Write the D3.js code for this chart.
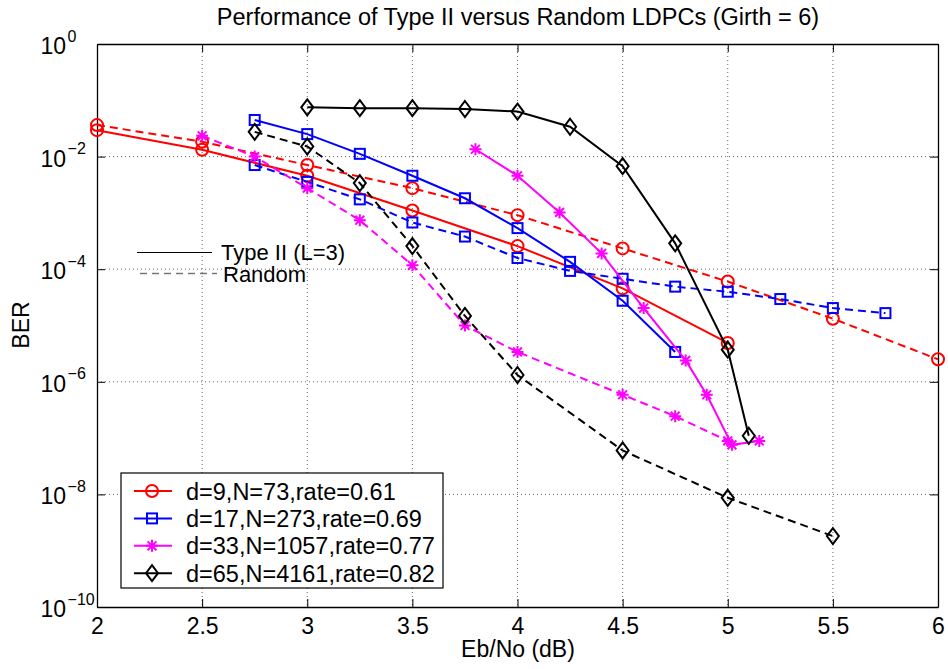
<!DOCTYPE html>
<html>
<head>
<meta charset="utf-8">
<script src="https://cdn.jsdelivr.net/npm/d3@7"></script>
<style>
  html, body { margin: 0; padding: 0; background: #fff; }
  svg { display: block; font-family: "Liberation Sans", Arial, Helvetica, sans-serif; }
</style>
</head>
<body>
<svg id="chart" width="948" height="669"></svg>
<script>
// ---------------- data ----------------
const titleText = "Performance of Type II versus Random LDPCs (Girth = 6)";
const xLabel = "Eb/No (dB)";
const yLabel = "BER";
const xTicks = [2, 2.5, 3, 3.5, 4, 4.5, 5, 5.5, 6];
const xTickLabels = ["2", "2.5", "3", "3.5", "4", "4.5", "5", "5.5", "6"];
const yTicks = [1, 1e-2, 1e-4, 1e-6, 1e-8, 1e-10];
const yTickExponents = ["0", "\u22122", "\u22124", "\u22126", "\u22128", "\u221210"];

const legendLabels = ["d=9,N=73,rate=0.61", "d=17,N=273,rate=0.69", "d=33,N=1057,rate=0.77", "d=65,N=4161,rate=0.82"];
const seriesColors = ["#ff0000", "#0000ff", "#ff00ff", "#000000"];
const seriesMarkers = ["circle", "square", "star", "diamond"];
const styleLabels = ["Type II (L=3)", "Random"];

// d=9
const d9TypeX = [2, 2.5, 3, 3.5, 4, 4.5, 5];
const d9TypeBER = [2.95e-2, 1.32e-2, 4.57e-3, 1.10e-3, 2.57e-4, 4.57e-5, 4.90e-6];
const d9RandX = [2, 2.5, 3, 3.5, 4, 4.5, 5, 5.5, 6];
const d9RandBER = [3.63e-2, 1.84e-2, 7.08e-3, 2.75e-3, 9.12e-4, 2.34e-4, 6.03e-5, 1.32e-5, 2.51e-6];
// d=17
const d17TypeX = [2.75, 3, 3.25, 3.5, 3.75, 4, 4.25, 4.5, 4.75];
const d17TypeBER = [4.47e-2, 2.51e-2, 1.12e-2, 4.57e-3, 1.82e-3, 5.37e-4, 1.35e-4, 2.75e-5, 3.39e-6];
const d17RandX = [2.75, 3, 3.25, 3.5, 3.75, 4, 4.25, 4.5, 4.75, 5, 5.25, 5.5, 5.75];
const d17RandBER = [7.08e-3, 3.55e-3, 1.74e-3, 6.76e-4, 3.80e-4, 1.58e-4, 9.33e-5, 6.76e-5, 4.90e-5, 3.98e-5, 2.95e-5, 2.04e-5, 1.66e-5];
// d=33
const d33TypeX = [3.8, 4, 4.2, 4.4, 4.6, 4.8, 4.9, 5.02, 5.15];
const d33TypeBER = [1.35e-2, 4.57e-3, 1.02e-3, 1.91e-4, 2.04e-5, 2.40e-6, 5.89e-7, 7.59e-8, 8.91e-8];
const d33RandX = [2.5, 2.75, 3, 3.25, 3.5, 3.75, 4, 4.5, 4.75, 5];
const d33RandBER = [2.34e-2, 1.0e-2, 2.75e-3, 7.41e-4, 1.17e-4, 1.0e-5, 3.39e-6, 5.89e-7, 2.45e-7, 8.91e-8];
// d=65
const d65TypeX = [3, 3.25, 3.5, 3.75, 4, 4.25, 4.5, 4.75, 5, 5.1];
const d65TypeBER = [7.50e-2, 7.24e-2, 7.24e-2, 7.00e-2, 6.31e-2, 3.39e-2, 6.76e-3, 2.88e-4, 3.72e-6, 1.10e-7];
const d65RandX = [2.75, 3, 3.25, 3.5, 3.75, 4, 4.5, 5, 5.5];
const d65RandBER = [2.75e-2, 1.51e-2, 3.39e-3, 2.57e-4, 1.48e-5, 1.32e-6, 6.03e-8, 8.71e-9, 1.82e-9];

// ---------------- build ----------------
const series = [
  {x: d9TypeX, y: d9TypeBER, k: 0, dashed: false},
  {x: d9RandX, y: d9RandBER, k: 0, dashed: true},
  {x: d17TypeX, y: d17TypeBER, k: 1, dashed: false},
  {x: d17RandX, y: d17RandBER, k: 1, dashed: true},
  {x: d33TypeX, y: d33TypeBER, k: 2, dashed: false},
  {x: d33RandX, y: d33RandBER, k: 2, dashed: true},
  {x: d65TypeX, y: d65TypeBER, k: 3, dashed: false},
  {x: d65RandX, y: d65RandBER, k: 3, dashed: true}
];

const svg = d3.select("#chart");
const L = 97, R = 938, T = 44, B = 607;
const x = d3.scaleLinear().domain([2, 6]).range([L, R]);
const y = d3.scaleLog().domain([1e-10, 1]).range([B, T]);

svg.append("rect").attr("width", 948).attr("height", 669).attr("fill", "#fff");

// grid
const grid = svg.append("g").attr("stroke", "#555").attr("stroke-width", 0.9).attr("stroke-dasharray", "1,3");
grid.selectAll("line.gx").data(xTicks.filter(v => v > 2 && v < 6)).join("line")
  .attr("x1", d => x(d)).attr("x2", d => x(d)).attr("y1", T).attr("y2", B);
grid.selectAll("line.gy").data(yTicks.filter(v => v < 1 && v > 1e-10)).join("line")
  .attr("class", "gy")
  .attr("y1", d => y(d)).attr("y2", d => y(d)).attr("x1", L).attr("x2", R);

// axes
const fs = 23;
const axB = svg.append("g").attr("transform", `translate(0,${B})`)
  .call(d3.axisBottom(x).tickValues(xTicks).tickSize(-8).tickSizeOuter(0).tickFormat((d, i) => xTickLabels[i]));
axB.selectAll("text").attr("y", 26.5).attr("dy", 0).attr("font-size", fs).attr("fill", "#000").attr("font-family", "Liberation Sans, Arial, sans-serif");
const axT = svg.append("g").attr("transform", `translate(0,${T})`)
  .call(d3.axisTop(x).tickValues(xTicks).tickSize(-8).tickSizeOuter(0).tickFormat(""));
const axL = svg.append("g").attr("transform", `translate(${L},0)`)
  .call(d3.axisLeft(y).tickValues(yTicks).tickSize(-8).tickSizeOuter(0).tickFormat(""));
const axR = svg.append("g").attr("transform", `translate(${R},0)`)
  .call(d3.axisRight(y).tickValues(yTicks).tickSize(-8).tickSizeOuter(0).tickFormat(""));
[axB, axT, axL, axR].forEach(a => {
  a.select(".domain").attr("stroke", "#000").attr("stroke-width", 1.3);
  a.selectAll(".tick line").attr("stroke", "#000").attr("stroke-width", 1);
});

// y tick labels 10^n
axL.selectAll(".tick").each(function(d, i) {
  const t = d3.select(this).append("text")
    .attr("x", 40.5 - L).attr("y", 9.5)
    .attr("text-anchor", "start").attr("fill", "#000")
    .attr("font-size", fs);
  t.append("tspan").text("10");
  t.append("tspan").attr("dy", -12.5).attr("dx", 1.5).attr("font-size", 16).text(yTickExponents[i]);
});

// title & axis labels
svg.append("text").attr("x", 518).attr("y", 25).attr("text-anchor", "middle")
  .attr("font-size", 23.5).attr("fill", "#000").text(titleText);
svg.append("text").attr("x", 518).attr("y", 657).attr("text-anchor", "middle")
  .attr("font-size", fs).attr("fill", "#000").text(xLabel);
svg.append("text").attr("transform", "translate(28.5,325) rotate(-90)").attr("text-anchor", "middle")
  .attr("font-size", fs).attr("fill", "#000").text(yLabel);

// markers
function drawMarker(g, type, cx, cy, color) {
  if (type === "circle") {
    g.append("circle").attr("cx", cx).attr("cy", cy).attr("r", 6)
      .attr("fill", "none").attr("stroke", color).attr("stroke-width", 2);
  } else if (type === "square") {
    g.append("rect").attr("x", cx - 5).attr("y", cy - 5).attr("width", 10).attr("height", 10)
      .attr("fill", "none").attr("stroke", color).attr("stroke-width", 2);
  } else if (type === "diamond") {
    g.append("path").attr("d", `M${cx},${cy - 8}L${cx + 6},${cy}L${cx},${cy + 8}L${cx - 6},${cy}Z`)
      .attr("fill", "none").attr("stroke", color).attr("stroke-width", 2);
  } else if (type === "star") {
    const r = 6, q = 4.4;
    g.append("path").attr("d",
      `M${cx - r},${cy}L${cx + r},${cy}M${cx},${cy - r}L${cx},${cy + r}` +
      `M${cx - q},${cy - q}L${cx + q},${cy + q}M${cx - q},${cy + q}L${cx + q},${cy - q}`)
      .attr("fill", "none").attr("stroke", color).attr("stroke-width", 2);
  }
}

const line = d3.line().x(d => x(d[0])).y(d => y(d[1]));
const plot = svg.append("g");
series.forEach(s => {
  const pts = s.x.map((v, i) => [v, s.y[i]]);
  const color = seriesColors[s.k];
  plot.append("path").attr("d", line(pts)).attr("fill", "none")
    .attr("stroke", color).attr("stroke-width", 2)
    .attr("stroke-dasharray", s.dashed ? "8,5" : null);
  const mg = plot.append("g");
  pts.forEach(p => drawMarker(mg, seriesMarkers[s.k], x(p[0]), y(p[1]), color));
});

// style annotation (Type II / Random)
const ann = svg.append("g");
ann.append("line").attr("x1", 137).attr("x2", 212).attr("y1", 252.5).attr("y2", 252.5)
  .attr("stroke", "#000").attr("stroke-width", 1);
ann.append("text").attr("x", 221).attr("y", 260).attr("font-size", 22).attr("fill", "#000").text(styleLabels[0]);
ann.append("line").attr("x1", 140).attr("x2", 217).attr("y1", 273.5).attr("y2", 273.5)
  .attr("stroke", "#777").attr("stroke-width", 1.5).attr("stroke-dasharray", "7,5");
ann.append("text").attr("x", 223).attr("y", 281.5).attr("font-size", 22).attr("fill", "#000").text(styleLabels[1]);

// legend
const lg = svg.append("g");
lg.append("rect").attr("x", 121).attr("y", 473).attr("width", 322).attr("height", 115)
  .attr("fill", "#fff").attr("stroke", "#000").attr("stroke-width", 1.2);
legendLabels.forEach((lab, i) => {
  const cy = 491 + i * 27.4;
  lg.append("line").attr("x1", 134).attr("x2", 172).attr("y1", cy).attr("y2", cy)
    .attr("stroke", seriesColors[i]).attr("stroke-width", 2);
  drawMarker(lg, seriesMarkers[i], 152, cy, seriesColors[i]);
  lg.append("text").attr("x", 186).attr("y", cy + 8.5).attr("font-size", 23.5).attr("fill", "#000").text(lab);
});
</script>
</body>
</html>
